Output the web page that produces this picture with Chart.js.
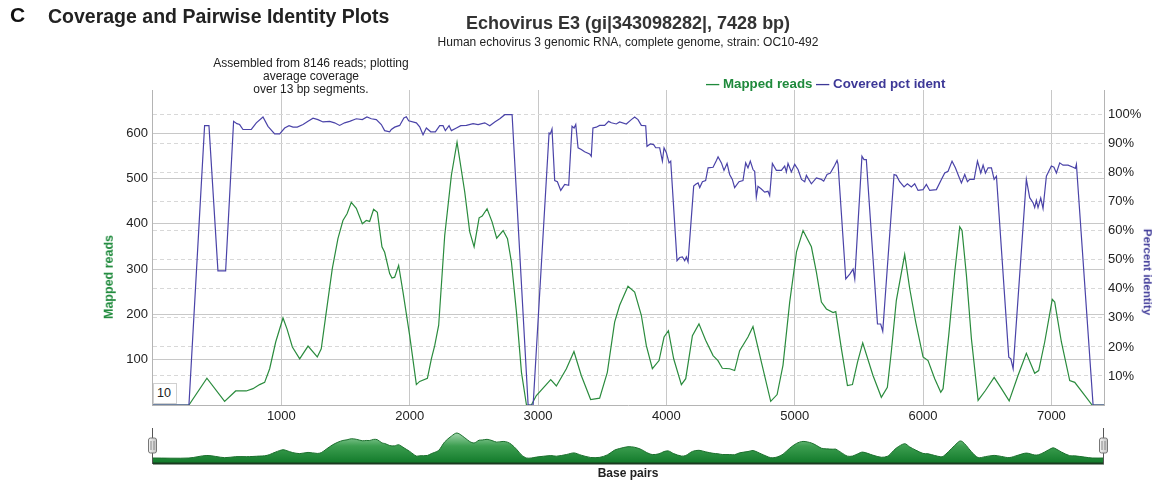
<!DOCTYPE html>
<html><head><meta charset="utf-8">
<script src="https://cdn.jsdelivr.net/npm/chart.js@4.4.1/dist/chart.umd.min.js"></script>
<style>
html,body{margin:0;padding:0;background:#fff;}
body{width:1153px;height:482px;position:relative;overflow:hidden;font-family:"Liberation Sans",Arial,Helvetica,sans-serif;color:#222;}
.t{position:absolute;white-space:nowrap;}
#main{position:absolute;left:0;top:0;width:1153px;height:482px;}
#nav{position:absolute;left:140px;top:425px;width:980px;height:42px;}
</style></head><body>
<canvas id="main" width="1153" height="482"></canvas>
<canvas id="nav" width="980" height="42"></canvas>

<div class="t" style="left:10px;top:4px;font-size:21px;line-height:21px;font-weight:bold;color:#111;">C</div>
<div class="t" style="left:48px;top:6.5px;font-size:19.5px;line-height:19.5px;font-weight:bold;color:#222;">Coverage and Pairwise Identity Plots</div>
<div class="t" style="left:628px;top:13.5px;font-size:18px;line-height:18px;font-weight:bold;color:#333;transform:translateX(-50%);">Echovirus E3 (gi|343098282|, 7428 bp)</div>
<div class="t" style="left:628px;top:36px;font-size:12px;line-height:12px;color:#222;transform:translateX(-50%);">Human echovirus 3 genomic RNA, complete genome, strain: OC10-492</div>
<div class="t" style="left:311px;top:57.3px;font-size:12px;line-height:13px;color:#222;text-align:center;transform:translateX(-50%);">Assembled from 8146 reads; plotting<br>average coverage<br>over 13 bp segments.</div>
<div class="t" style="left:706px;top:76.9px;font-size:13.3px;line-height:13.5px;font-weight:bold;"><span style="color:#1f8a3c;">— Mapped reads</span> <span style="color:#3d3897;">— Covered pct ident</span></div>
<div class="t" style="left:109px;top:277px;font-size:12.5px;line-height:12.5px;font-weight:bold;color:#1f8a3c;transform:translate(-50%,-50%) rotate(-90deg);">Mapped reads</div>
<div class="t" style="left:1147px;top:272px;font-size:11.5px;line-height:11.5px;font-weight:bold;color:#3d3897;transform:translate(-50%,-50%) rotate(90deg);">Percent identity</div>
<div class="t" style="left:628px;top:467px;font-size:12px;line-height:12px;font-weight:bold;color:#222;transform:translateX(-50%);">Base pairs</div>
<div class="t" style="left:153px;top:383px;width:24px;height:21px;box-sizing:border-box;border:1px solid #d0d0d0;background:#fff;font-size:12.6px;line-height:19px;padding-left:3px;color:#222;">10</div>

<script>
// ---- data ----
const readsBp = [0,280,420,558,644,727,779,831,870,909,956,1013,1044,1086,1143,1208,1280,1311,1350,1397,1441,1480,1512,1545,1584,1631,1662,1688,1719,1748,1784,1805,1844,1862,1883,1914,1948,2000,2052,2078,2138,2169,2195,2226,2273,2325,2369,2429,2468,2502,2541,2565,2603,2642,2678,2728,2762,2793,2832,2871,2910,2948,2987,3099,3143,3221,3280,3337,3410,3480,3540,3597,3636,3701,3753,3805,3844,3891,3943,3982,4016,4057,4117,4151,4203,4254,4306,4364,4402,4436,4493,4532,4571,4636,4675,4740,4813,4863,4909,4961,5014,5065,5130,5169,5208,5247,5299,5320,5364,5411,5450,5490,5530,5610,5675,5722,5753,5792,5857,5896,5943,6000,6039,6091,6138,6156,6200,6247,6286,6304,6338,6377,6429,6486,6554,6611,6671,6740,6805,6870,6901,6948,7007,7026,7078,7143,7182,7260,7317,7410];
const reads   = [0,0,59,8,31,31,36,45,50,80,139,192,168,128,102,130,106,124,205,301,367,407,422,447,434,400,407,405,432,425,349,337,290,280,282,308,249,153,45,52,59,102,131,176,374,507,580,470,382,349,413,417,433,404,368,385,367,315,205,72,0,0,21,56,42,80,118,65,12,15,72,183,220,262,249,198,131,80,98,150,164,102,45,58,153,179,143,109,98,81,80,76,120,150,173,95,8,23,88,227,338,385,349,293,227,212,204,206,124,43,45,95,137,65,17,39,118,231,332,257,183,106,98,58,28,36,153,293,393,385,286,146,10,32,61,36,9,65,114,70,76,139,233,227,139,54,50,21,0,0];

const identBp = [0,280,402,436,506,566,628,654,675,701,766,805,857,896,948,987,1026,1060,1091,1124,1169,1208,1247,1285,1325,1376,1415,1454,1493,1532,1584,1631,1667,1701,1740,1779,1805,1844,1857,1883,1922,1955,1974,1992,2052,2078,2104,2130,2164,2200,2234,2260,2278,2307,2325,2364,2398,2442,2494,2533,2585,2624,2663,2702,2741,2798,2923,2962,3086,3096,3109,3130,3151,3177,3208,3239,3265,3281,3294,3312,3337,3363,3402,3415,3428,3454,3480,3519,3550,3571,3610,3636,3688,3727,3753,3779,3805,3839,3849,3875,3901,3917,3948,3969,3982,4000,4021,4034,4083,4104,4125,4143,4156,4169,4213,4229,4247,4260,4281,4306,4325,4364,4390,4403,4429,4449,4473,4493,4514,4532,4566,4597,4618,4636,4654,4675,4688,4701,4714,4740,4766,4792,4805,4826,4857,4896,4922,4935,4948,4974,5000,5026,5053,5078,5091,5130,5169,5208,5226,5252,5278,5312,5330,5338,5398,5429,5455,5468,5524,5540,5558,5645,5670,5686,5774,5792,5818,5852,5878,5909,5935,5961,6000,6026,6052,6104,6143,6169,6195,6226,6252,6278,6299,6325,6346,6364,6398,6424,6450,6468,6486,6507,6533,6554,6572,6668,6684,6702,6805,6831,6857,6870,6883,6896,6917,6935,6961,7000,7020,7039,7065,7091,7130,7169,7187,7195,7325,7410];
const ident   = [0,0,96.2,96.2,46.2,46.2,97.7,96.9,96.6,94.9,94.9,97.2,99.2,96.0,93.4,93.4,95.4,96.2,95.7,95.7,96.6,97.7,98.8,98.3,97.5,97.7,97.2,96.3,97.2,97.7,98.6,98.3,99.2,98.6,98.3,96.6,94.5,94.1,94.9,95.7,96.3,98.9,99.3,97.9,97.2,95.8,93.1,95.4,94.1,94.1,96.2,96.2,94.5,96.2,94.5,95.4,96.2,96.3,96.9,96.6,97.2,96.2,97.5,98.6,100,100,0,0,93.7,93.4,95.1,77.3,76.9,73.9,76.0,75.7,96.0,95.4,96.6,88.6,88.0,87.2,86.5,85.7,95.4,95.7,96.3,96.3,97.7,97.2,96.8,97.5,96.8,98.3,99.2,98.3,96.3,96.2,89.1,89.9,89.7,88.6,88.6,84.0,88.6,86.9,83.4,84.0,49.7,50.8,51.0,49.7,51.0,49.3,75.4,76.0,76.5,74.9,76.9,77.3,81.7,81.9,84.2,85.5,83.4,80.8,83.2,79.4,77.7,74.9,76.9,77.3,83.4,81.7,84.0,81.1,80.5,71.6,75.3,74.4,73.3,73.6,72.1,83.2,80.8,80.8,82.3,80.3,83.2,80.3,82.9,81.1,77.7,76.9,79.1,76.2,78.2,77.7,77.1,79.4,79.9,82.6,84.2,82.9,43.4,45.1,46.8,43.4,85.7,84.5,84.5,27.9,27.9,25.4,79.4,79.1,76.9,75.1,76.2,75.1,76.2,73.9,74.2,76.0,73.9,74.2,77.7,79.9,80.5,84.0,81.7,78.8,76.5,79.4,76.9,77.7,77.7,84.0,79.9,82.6,79.9,81.7,81.7,77.7,78.8,16.5,15.9,12.5,77.7,71.4,69.7,68.0,70.5,68.0,71.3,67.7,78.8,82.3,81.9,79.9,83.4,82.6,82.6,81.9,81.5,82.9,0,0];

const xTicks     = [1000,2000,3000,4000,5000,6000,7000];
const readsTicks = [100,200,300,400,500,600];
const identTicks = [10,20,30,40,50,60,70,80,90,100];
const X_MAX = 7410;

const GREEN = '#2a8b3d';
const PURPLE = '#4a43a8';
const tickFont = {family:'"Liberation Sans", Arial, sans-serif', size:13};

const readsPts = readsBp.map((b,i)=>({x:b, y:reads[i]}));
const identPts = identBp.map((b,i)=>({x:b, y:ident[i]}));

const framePlugin = {
  id:'frame',
  beforeDatasetsDraw(chart){
    const a = chart.chartArea, c = chart.ctx;
    c.save();
    c.strokeStyle = '#b4b4b4'; c.lineWidth = 1;
    c.beginPath();
    c.moveTo(Math.round(a.left)-0.5, a.top); c.lineTo(Math.round(a.left)-0.5, a.bottom+0.5);
    c.moveTo(Math.round(a.right)+0.5, a.top); c.lineTo(Math.round(a.right)+0.5, a.bottom+0.5);
    c.moveTo(a.left-1, Math.round(a.bottom)+0.5); c.lineTo(a.right+1, Math.round(a.bottom)+0.5);
    c.stroke();
    c.restore();
  }
};

new Chart(document.getElementById('main'), {
  type:'line',
  data:{datasets:[
    {label:'Covered pct ident', data:identPts, yAxisID:'y2', borderColor:PURPLE, borderWidth:1.2, pointRadius:0, tension:0, order:0},
    {label:'Mapped reads', data:readsPts, yAxisID:'y', borderColor:GREEN, borderWidth:1.2, pointRadius:0, tension:0, order:1}
  ]},
  options:{
    responsive:false, animation:false, devicePixelRatio:1,
    layout:{padding:{left:93, right:0, top:90, bottom:53}},
    plugins:{legend:{display:false}, tooltip:{enabled:false}, title:{display:false}},
    scales:{
      x:{type:'linear', min:0, max:X_MAX,
        afterBuildTicks:s=>{s.ticks = xTicks.map(v=>({value:v}));},
        afterFit:s=>{s.height = 24;},
        ticks:{font:tickFont, color:'#222', padding:4, maxRotation:0, callback:v=>String(v)},
        grid:{color:'#c8c8c8', lineWidth:1, drawTicks:false},
        border:{display:false}},
      y:{type:'linear', position:'left', min:0, max:695,
        afterBuildTicks:s=>{s.ticks = readsTicks.map(v=>({value:v}));},
        afterFit:s=>{s.width = 60;},
        ticks:{font:tickFont, color:'#222', padding:5},
        grid:{color:'#c8c8c8', lineWidth:1, drawTicks:false},
        border:{display:false}},
      y2:{type:'linear', position:'right', min:0, max:108.5,
        afterBuildTicks:s=>{s.ticks = identTicks.map(v=>({value:v}));},
        afterFit:s=>{s.width = 49;},
        ticks:{font:tickFont, color:'#222', padding:4, callback:v=>v+'%'},
        grid:{color:'#d8d8d8', lineWidth:1, drawTicks:false, drawOnChartArea:true},
        border:{display:false, dash:[4,3]}}
    }
  },
  plugins:[framePlugin]
});

const navPlugin = {
  id:'navdeco',
  afterDraw(chart){
    const a = chart.chartArea, c = chart.ctx;
    c.save();
    c.strokeStyle = '#1b3a20'; c.lineWidth = 2;
    c.beginPath(); c.moveTo(a.left, a.bottom-0.5); c.lineTo(a.right, a.bottom-0.5); c.stroke();
    [a.left, a.right].forEach(x=>{
      const xx = Math.round(x)-0.5;
      c.strokeStyle = '#555'; c.lineWidth = 1;
      c.beginPath(); c.moveTo(xx, 3); c.lineTo(xx, a.bottom); c.stroke();
      const hx = xx-4, hy = 13, hw = 8, hh = 15, r = 2;
      const g = c.createLinearGradient(hx,0,hx+hw,0);
      g.addColorStop(0,'#f4f4f4'); g.addColorStop(1,'#c4c4c4');
      c.fillStyle = g; c.strokeStyle = '#777';
      c.beginPath();
      c.moveTo(hx+r,hy); c.lineTo(hx+hw-r,hy); c.quadraticCurveTo(hx+hw,hy,hx+hw,hy+r);
      c.lineTo(hx+hw,hy+hh-r); c.quadraticCurveTo(hx+hw,hy+hh,hx+hw-r,hy+hh);
      c.lineTo(hx+r,hy+hh); c.quadraticCurveTo(hx,hy+hh,hx,hy+hh-r);
      c.lineTo(hx,hy+r); c.quadraticCurveTo(hx,hy,hx+r,hy);
      c.closePath(); c.fill(); c.stroke();
      c.strokeStyle = '#888';
      c.beginPath(); c.moveTo(xx-1.5,hy+3); c.lineTo(xx-1.5,hy+hh-3); c.moveTo(xx+1.5,hy+3); c.lineTo(xx+1.5,hy+hh-3); c.stroke();
    });
    c.restore();
  }
};

new Chart(document.getElementById('nav'), {
  type:'line',
  data:{datasets:[{data:readsPts, borderColor:'#1a6f2c', borderWidth:1, pointRadius:0, tension:0.3,
    fill:'start',
    backgroundColor:(ctx)=>{
      const ch = ctx.chart, a = ch.chartArea;
      if(!a) return '#3a9a4c';
      const g = ch.ctx.createLinearGradient(0,a.top,0,a.bottom);
      g.addColorStop(0,'#c6eacd'); g.addColorStop(0.5,'#3c9e50'); g.addColorStop(1,'#0f7828');
      return g;
    }}]},
  options:{
    responsive:false, animation:false, devicePixelRatio:1,
    layout:{padding:{left:13, right:16, top:3, bottom:3}},
    plugins:{legend:{display:false}, tooltip:{enabled:false}},
    scales:{
      x:{type:'linear', display:false, min:0, max:X_MAX},
      y:{type:'linear', display:false, min:-139, max:696}
    }
  },
  plugins:[navPlugin]
});
</script>
</body></html>
